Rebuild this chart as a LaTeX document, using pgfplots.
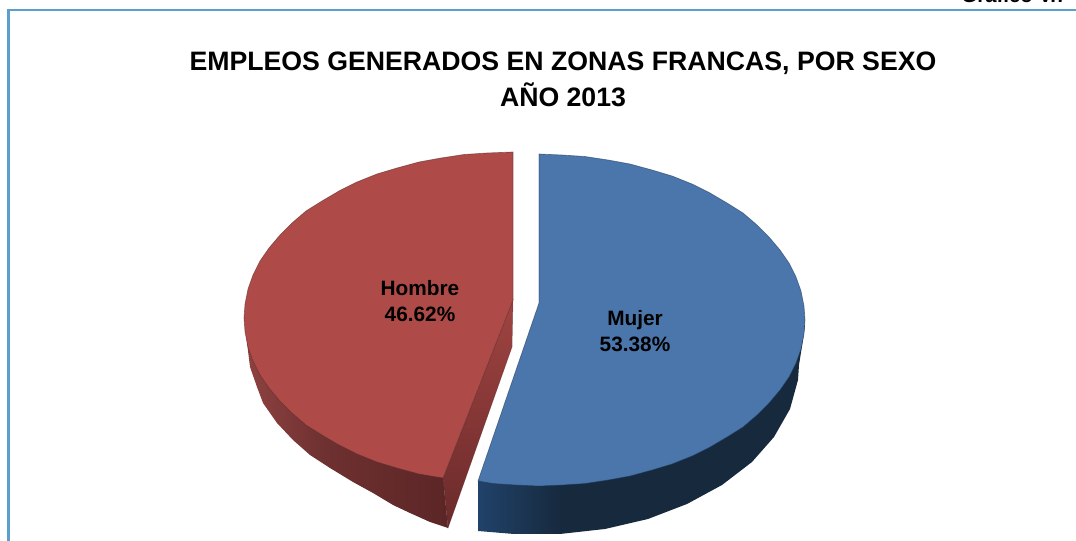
\documentclass[border=0pt]{standalone}
\usepackage{fontspec}
\setmainfont{Liberation Sans}
\usepackage{pgfplots}
\pgfplotsset{compat=1.18}

\definecolor{frameblue}{HTML}{5B9FCC}
\definecolor{redtop}{HTML}{AE4B48}
\definecolor{bluetop}{HTML}{4A76AB}
\definecolor{rededge}{HTML}{5A2A2A}
\definecolor{blueedge}{HTML}{1F3A58}
\definecolor{redinner}{HTML}{A04442}
\definecolor{redinnerlow}{HTML}{6A2A2A}
\definecolor{rs1}{HTML}{8E4241}
\definecolor{rs2}{HTML}{6E3030}
\definecolor{rs3}{HTML}{5C2626}
\definecolor{bs1}{HTML}{21426A}
\definecolor{bs2}{HTML}{16293D}

% the box of the path sits between 25bp and 75bp
\pgfdeclarehorizontalshading{redside}{100bp}{color(0bp)=(rs1); color(25bp)=(rs1); color(45bp)=(rs2); color(75bp)=(rs3); color(100bp)=(rs3)}
\pgfdeclarehorizontalshading{blueside}{100bp}{color(0bp)=(bs1); color(25bp)=(bs1); color(38bp)=(bs2); color(100bp)=(bs2)}

\begin{document}
\begin{tikzpicture}
\useasboundingbox (0,0) rectangle (807pt,405.75pt);
\clip (0,0) rectangle (807pt,405.75pt);
\begin{axis}[scale only axis,width=807pt,height=405.75pt,xmin=0,xmax=1076,ymin=0,ymax=541,y dir=reverse,hide axis,clip=false]

% frame
\addplot[frameblue,mark=none,line width=2.1pt] coordinates {(8.5,541) (8.5,10) (1076,10)};

% Hombre: outer side
\addplot[shading=redside,draw=none,mark=none] coordinates {
(245,325) (247,343) (250,367) (257,387) (263,403) (277,423) (293,440) (310,455) (330,468)
(353,482) (373,493) (393,505) (410,513) (430,522) (448,528) (443,478)} --cycle;
% Hombre: cut side
\addplot[top color=redinner,bottom color=redinnerlow,draw=rededge,draw opacity=0.5,line width=0.4pt,mark=none] coordinates {
(513,300) (512,347) (448,528) (443,478)} --cycle;
% Hombre: top face
\addplot[fill=redtop,draw=rededge,draw opacity=0.55,line width=0.5pt,mark=none] coordinates {
(513,152) (513,300) (443,478) (419,474) (397,468) (377,462) (357,454) (339,445) (322,435)
(306,425) (292,413) (280,401) (269,388) (260,375) (253,361) (248,347) (245,332) (244,318)
(245,304) (248,289) (253,275) (260,261) (269,248) (280,235) (292,223) (306,211) (322,201)
(339,191) (357,182) (377,174) (397,168) (419,162) (441,158) (464,154.5) (487,153)} --cycle;

% Mujer: outer side
\addplot[shading=blueside,draw=none,mark=none] coordinates {
(805,325) (803,340) (799,365) (798,380) (790,409) (774,437) (752,462) (722,485) (687,504)
(648,519) (605,529) (560,534) (514,534) (478,531) (478,481)} --cycle;
% Mujer: top face
\addplot[fill=bluetop,draw=blueedge,draw opacity=0.55,line width=0.5pt,mark=none] coordinates {
(539,154) (562,155) (585,156.5) (608,160) (630,164) (652,170) (672,176) (692,184) (710,193)
(727,203) (743,213) (757,225) (769,237) (780,250) (789,263) (796,277) (801,291) (804,306)
(805,320) (804,334) (801,349) (796,363) (789,377) (780,390) (769,403) (757,415) (743,427)
(727,437) (710,447) (692,456) (672,464) (652,470) (630,476) (608,480) (585,483.5) (562,485)
(539,486) (516,485) (493,483.5) (478,481) (539,303)} --cycle;

% texts
\node[font=\bfseries\fontsize{15.3pt}{18pt}\selectfont,anchor=base east] at (axis cs:1072,3) {Gráfico V.7};
\node[font=\bfseries\fontsize{20pt}{24pt}\selectfont,anchor=center] at (axis cs:563,63) {EMPLEOS GENERADOS EN ZONAS FRANCAS, POR SEXO};
\node[font=\bfseries\fontsize{20pt}{24pt}\selectfont,anchor=center] at (axis cs:563,95) {AÑO 2013};
\node[font=\bfseries\fontsize{15.6pt}{18pt}\selectfont,anchor=center] at (axis cs:420,288) {Hombre};
\node[font=\bfseries\fontsize{15.6pt}{18pt}\selectfont,anchor=center] at (axis cs:420,314) {46.62\%};
\node[font=\bfseries\fontsize{15.6pt}{18pt}\selectfont,anchor=center] at (axis cs:635,320) {Mujer};
\node[font=\bfseries\fontsize{15.6pt}{18pt}\selectfont,anchor=center] at (axis cs:635,344) {53.38\%};
\end{axis}
\end{tikzpicture}
\end{document}
